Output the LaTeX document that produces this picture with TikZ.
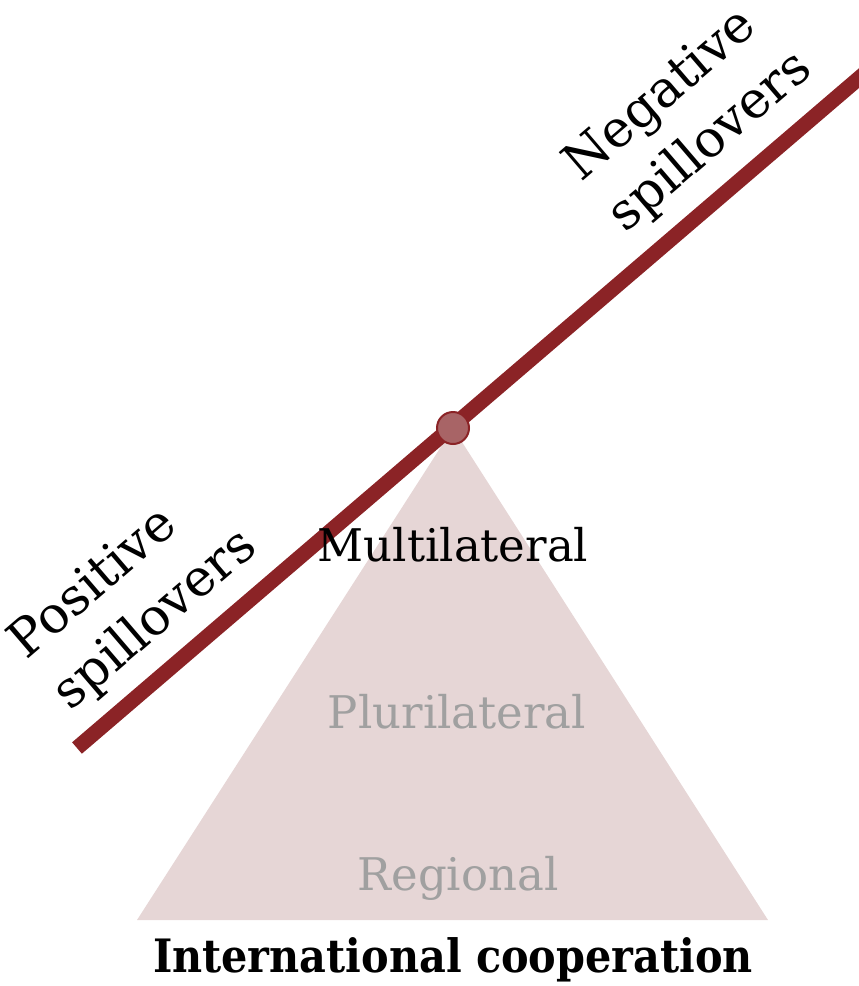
\documentclass[tikz,border=0pt]{standalone}
\usepackage{fontspec}
\setmainfont{DejaVu Serif}
\newfontfamily\condserif{DejaVu Serif Condensed}
\definecolor{darkred}{HTML}{8B2326}
\definecolor{dotfill}{HTML}{A86466}
\definecolor{trifill}{HTML}{E6D6D6}
\definecolor{graytext}{HTML}{A0A0A0}
\begin{document}
\begin{tikzpicture}[x=1pt,y=-1pt,
  lvl/.style={font=\fontsize{45}{50}\selectfont, inner sep=0pt},
  side/.style={font=\fontsize{51}{68}\selectfont, align=left, rotate=40.6, inner sep=0pt}]
\useasboundingbox (0,0) rectangle (859,986);
\clip (0,0) rectangle (859,986);
\coordinate (apex) at (453,428);
\coordinate (bl) at (137,920);
\coordinate (br) at (768,920);
\fill[trifill] (apex) -- (bl) -- (br) -- cycle;
\coordinate (lstart) at (77,748);
\coordinate (lend) at (900,43);
\draw[darkred, line width=15pt] (lstart) -- (lend);
\node[circle, draw=darkred, line width=2pt, fill=dotfill, minimum size=32pt, inner sep=0pt] (pivot) at (apex) {};
\node[lvl] (multi) at (453,545) {Multilateral};
\node[lvl, text=graytext] (pluri) at (457,712) {Plurilateral};
\node[lvl, text=graytext] (regio) at (458,878) {Regional};
\node[inner sep=0pt, font=\condserif\bfseries\fontsize{46}{50}\selectfont] (title) at (453,960) {International cooperation};
\node[side] (pos) at (134,595) {Positive\\spillovers};
\node[side] (neg) at (689,117) {Negative\\spillovers};
\end{tikzpicture}
\end{document}
